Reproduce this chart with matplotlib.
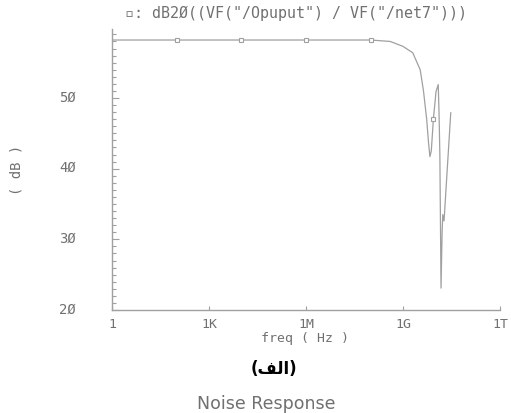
import matplotlib
matplotlib.use("Agg")
import matplotlib.pyplot as plt
from matplotlib.ticker import FixedLocator, NullLocator, MultipleLocator
from matplotlib.transforms import ScaledTranslation

# data
freq_hz = [1, 1e2, 1e4, 1e6, 1e8, 4e8, 1e9, 2e9, 3.4e9, 4.3e9, 5.4e9, 6.2e9, 6.8e9,
           7.5e9, 8.7e9, 1.05e10, 1.23e10, 1.3e10, 1.38e10, 1.5e10, 1.62e10,
           1.7e10, 1.86e10, 2.2e10, 3.0e10]
gain_db = [58.2, 58.2, 58.2, 58.2, 58.2, 58.0, 57.3, 56.4, 54.0, 51.0, 47.0, 43.5, 41.7,
           42.5, 47.0, 50.9, 51.9, 48.0, 42.0, 23.1, 31.0,
           33.5, 32.6, 38.0, 47.9]
marker_freq = [1e2, 1e4, 1e6, 1e8, 8.7e9]
marker_db = [58.2, 58.2, 58.2, 58.2, 47.0]

xtick_vals = [1, 1e3, 1e6, 1e9, 1e12]
xtick_labels = ["1", "1K", "1M", "1G", "1T"]
ytick_vals = [20, 30, 40, 50]
ytick_labels = ["2Ø", "3Ø", "4Ø", "5Ø"]

title_text = '▫: dB2Ø((VF("/Opuput") / VF("/net7")))'
xlabel_text = "freq ( Hz )"
ylabel_text = "( dB )"
caption_text = "(\uFED2\uFEDF\uFE8D)"  # (الف) in visual order
footer_text = "Noise Response"

GRAY = "#707070"
LINE = "#a0a0a0"
MONO = "DejaVu Sans Mono"

fig = plt.figure(figsize=(5.11, 4.14), dpi=100)
W, H = 511, 414
ax = fig.add_axes([112 / W, 1 - 311 / H, 388 / W, (311 - 30) / H])

ax.plot(freq_hz, gain_db, color=LINE, lw=0.9)
ax.plot(marker_freq, marker_db, ls="none", marker="s", ms=3, mfc="white",
        mec=LINE, mew=0.8)

ax.set_xscale("log")
ax.set_xlim(1, 1e12)
ax.set_ylim(20, 59.76)

ax.xaxis.set_major_locator(FixedLocator(xtick_vals))
ax.xaxis.set_minor_locator(NullLocator())
ax.set_xticklabels(xtick_labels, fontfamily=MONO, fontsize=9.5, color=GRAY)
ax.yaxis.set_major_locator(FixedLocator(ytick_vals))
ax.yaxis.set_minor_locator(MultipleLocator(1))
ax.set_yticklabels(ytick_labels, fontfamily=MONO, fontsize=10, color=GRAY)

ax.tick_params(axis="x", which="major", direction="in", length=3, width=0.8,
               color=LINE, pad=5)
ax.tick_params(axis="y", which="major", direction="in", length=5, width=0.8,
               color=LINE, pad=26)
ax.tick_params(axis="y", which="minor", direction="in", length=2.7, width=0.8,
               color=LINE)
for lbl in ax.get_yticklabels():
    lbl.set_transform(lbl.get_transform() + ScaledTranslation(0, 3 / 100, fig.dpi_scale_trans))

for s in ["top", "right"]:
    ax.spines[s].set_visible(False)
for s in ["left", "bottom"]:
    ax.spines[s].set_color(LINE)
    ax.spines[s].set_linewidth(1.0)

fig.text(296 / W, 1 - 13 / H, title_text, ha="center", va="center",
         fontfamily=MONO, fontsize=10.8, color=GRAY)
fig.text(305 / W, 1 - 339 / H, xlabel_text, ha="center", va="center",
         fontfamily=MONO, fontsize=9.5, color=GRAY)
fig.text(17 / W, 1 - 170 / H, ylabel_text, ha="center", va="center",
         rotation=90, fontfamily=MONO, fontsize=10, color=GRAY)
fig.text(274 / W, 1 - 369 / H, caption_text, ha="center", va="center",
         fontfamily="DejaVu Sans", fontweight="bold", fontsize=12, color="black")
fig.text(266 / W, 1 - 404 / H, footer_text, ha="center", va="center",
         fontfamily="DejaVu Sans", fontsize=12.5, color=GRAY)

fig.savefig("out.png", dpi=100)
